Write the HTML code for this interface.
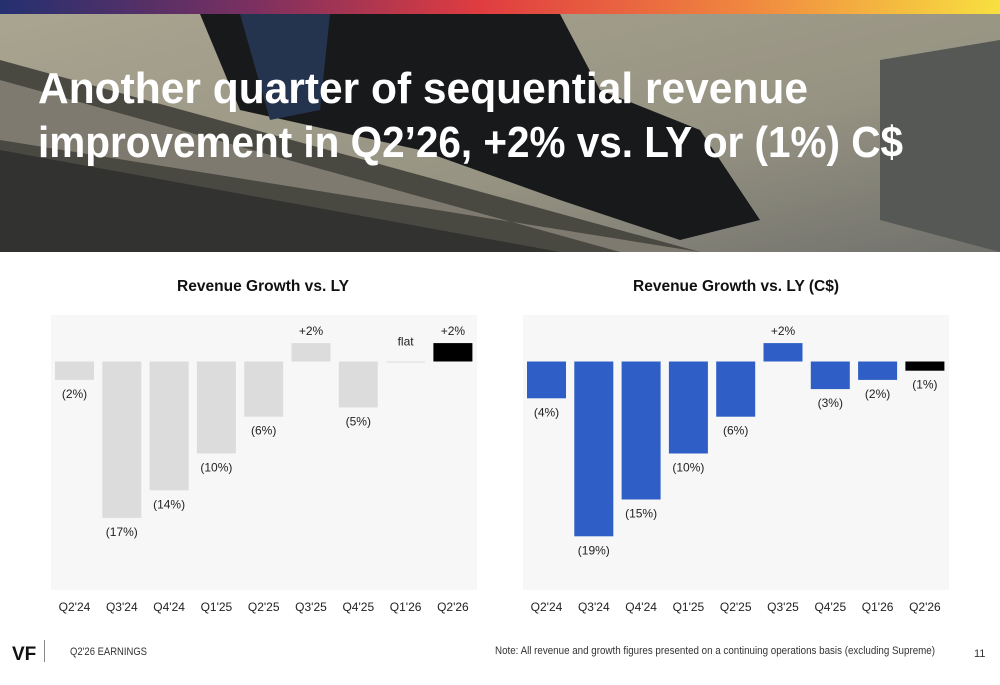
<!DOCTYPE html>
<html><head><meta charset="utf-8"><style>
body{margin:0;width:1000px;height:685px;overflow:hidden;background:#fff;font-family:"Liberation Sans",sans-serif}
svg{display:block}
</style></head><body>
<svg id="s" width="1000" height="685" viewBox="0 0 1000 685" xmlns="http://www.w3.org/2000/svg" font-family="Liberation Sans, sans-serif">
<defs>
<linearGradient id="tb" x1="0" x2="1" y1="0" y2="0">
<stop offset="0" stop-color="#243070"/><stop offset="0.25" stop-color="#7a3060"/><stop offset="0.48" stop-color="#e03c40"/><stop offset="0.75" stop-color="#f08840"/><stop offset="1" stop-color="#f8e040"/>
</linearGradient>
<linearGradient id="sky" x1="0" x2="1" y1="0" y2="1">
<stop offset="0" stop-color="#cfc9b0"/><stop offset="0.6" stop-color="#b8b4a0"/><stop offset="1" stop-color="#8a8a84"/>
</linearGradient>
</defs>
<rect x="0" y="0" width="1000" height="14" fill="url(#tb)"/>
<g>
<rect x="0" y="14" width="1000" height="238" fill="url(#sky)"/>
<polygon points="0,60 0,252 700,252" fill="#5a5850"/>
<polygon points="0,80 0,140 700,252 620,252" fill="#9a9588"/>
<polygon points="0,150 0,252 560,252" fill="#3e3e3c"/>
<polygon points="200,14 560,14 600,90 700,130 760,220 680,240 560,200 420,150 240,110" fill="#1e1f22"/>
<polygon points="240,14 330,14 320,110 270,120" fill="#2c3f60"/>
<polygon points="880,60 1000,40 1000,252 880,220" fill="#6a6c68"/>
<rect x="0" y="14" width="1000" height="238" fill="#000" opacity="0.18"/>
</g>
<text x="38" y="103" fill="#fff" font-weight="bold" font-size="44" textLength="770" lengthAdjust="spacingAndGlyphs">Another quarter of sequential revenue</text>
<text x="38" y="157" fill="#fff" font-weight="bold" font-size="44" textLength="865" lengthAdjust="spacingAndGlyphs">improvement in Q2’26, +2% vs. LY or (1%) C$</text>
<text x="263" y="291" text-anchor="middle" font-weight="bold" font-size="16" fill="#111" textLength="172" lengthAdjust="spacingAndGlyphs">Revenue Growth vs. LY</text>
<text x="736" y="291" text-anchor="middle" font-weight="bold" font-size="16" fill="#111" textLength="206" lengthAdjust="spacingAndGlyphs">Revenue Growth vs. LY (C$)</text>
<rect x="51" y="315" width="426" height="275" fill="#f7f7f7"/>
<rect x="523" y="315" width="426" height="275" fill="#f7f7f7"/>
<g id="left"></g>
<g id="right"></g>
<g>
<text x="12" y="660" font-weight="bold" font-size="19" fill="#111">VF</text>
<rect x="44" y="640" width="1" height="22" fill="#888"/>
<text x="70" y="655" font-size="11" fill="#333" textLength="77" lengthAdjust="spacingAndGlyphs">Q2'26 EARNINGS</text>
<text x="935" y="654" text-anchor="end" font-size="11" fill="#333" textLength="440" lengthAdjust="spacingAndGlyphs">Note: All revenue and growth figures presented on a continuing operations basis (excluding Supreme)</text>
<text x="974" y="657" font-size="11" fill="#333">11</text>
</g>
</svg>
<script>
const categories = ["Q2'24","Q3'24","Q4'24","Q1'25","Q2'25","Q3'25","Q4'25","Q1'26","Q2'26"];
const growthLY = [-2,-17,-14,-10,-6,2,-5,0,2];
const growthCC = [-4,-19,-15,-10,-6,2,-3,-2,-1];
const labelsLY = ["(2%)","(17%)","(14%)","(10%)","(6%)","+2%","(5%)","flat","+2%"];
const labelsCC = ["(4%)","(19%)","(15%)","(10%)","(6%)","+2%","(3%)","(2%)","(1%)"];
const NS="http://www.w3.org/2000/svg";
function mk(tag,attrs,parent){const e=document.createElementNS(NS,tag);for(const k in attrs)e.setAttribute(k,attrs[k]);parent.appendChild(e);return e;}
function draw(gid,x0,vals,labels,color,prefix){
  const g=document.getElementById(gid);
  const base=361.5, pxPer=9.2, pitch=47.3, bw=39;
  const xc=i=>x0+23.5+i*pitch;
  const y=v=>base-v*pxPer;
  vals.forEach((v,i)=>{
    const last=i===vals.length-1;
    const fill=last?'#000':color;
    let top=Math.min(y(v),base), h=Math.abs(y(v)-base);
    if(h<1){h=1;fill2='#ddd';}
    const r=mk('rect',{x:xc(i)-bw/2,y:top,width:bw,height:Math.max(h,1),fill:(v===0?'#dddddd':fill)},g);
    
    
    let ly = v>0 ? y(v)-8 : (v===0 ? base-16 : y(v)+18);
    if(v<0 && h<8) ly=y(v)+18;
    const t=mk('text',{x:xc(i),y:ly,'text-anchor':'middle','font-size':'12',fill:'#222'},g);
    t.textContent=labels[i];
    
    
    const c=mk('text',{x:xc(i),y:611,'text-anchor':'middle','font-size':'12',fill:'#222'},g);
    c.textContent=categories[i];
    
    
  });
}
var fill2;
draw('left',51,growthLY,labelsLY,'#dcdcdc','left');
draw('right',523,growthCC,labelsCC,'#2f5fc6','right');
</script>
</body></html>
